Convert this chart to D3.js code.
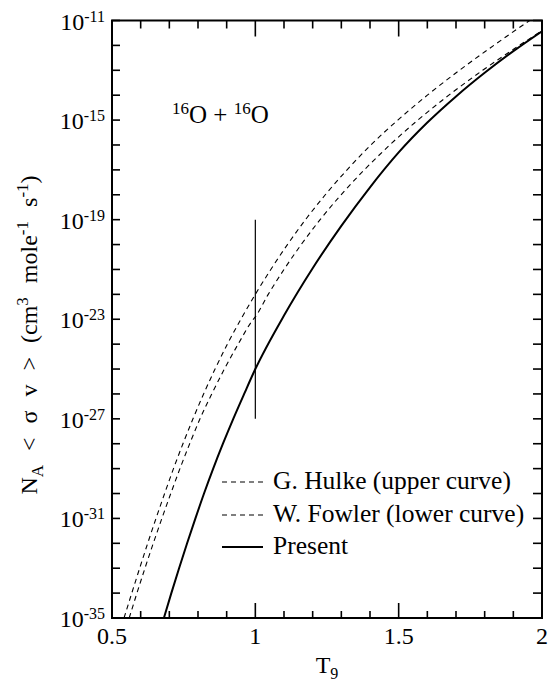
<!DOCTYPE html>
<html>
<head>
<meta charset="utf-8">
<script src="https://cdn.jsdelivr.net/npm/d3@7"></script>
<style>
  body { margin: 0; background: #fff; }
  svg text { font-family: "Liberation Serif", "Times New Roman", serif; fill: #000; }
</style>
</head>
<body>
<script>
// size of the page
var width = 548;
var height = 683;

// plot frame (window.top is read-only, so no "top" here)
var plotLeft = 112, plotRight = 542, plotTop = 20.5, plotBottom = 618;

// data: T9 and log10 of the rate
var tHulke   = [0.542, 0.569, 0.5965, 0.6245, 0.6535, 0.6835, 0.7145, 0.7475, 0.7825, 0.8195, 0.8595, 0.9025, 0.9495, 1.000, 1.054, 1.112, 1.175, 1.244, 1.320, 1.403, 1.497, 1.600, 1.712, 1.832, 1.957, 2.000];
var logHulke = [-35, -34, -33, -32, -31, -30, -29, -28, -27, -26, -25, -24, -23, -22, -21, -20, -19, -18, -17, -16, -15, -14, -13, -12, -11, -10.67];

var tFowler   = [0.560, 0.587, 0.615, 0.644, 0.674, 0.705, 0.737, 0.771, 0.807, 0.848, 0.892, 0.940, 0.993, 1.000, 1.045, 1.100, 1.160, 1.226, 1.299, 1.380, 1.469, 1.567, 1.675, 1.793, 1.921, 2.000];
var logFowler = [-35, -34, -33, -32, -31, -30, -29, -28, -27, -26, -25, -24, -23, -22.9, -22, -21, -20, -19, -18, -17, -16, -15, -14, -13, -12, -11.41];

var tPresent   = [0.681, 0.707, 0.734, 0.762, 0.791, 0.821, 0.853, 0.887, 0.923, 0.961, 1.000, 1.100, 1.200, 1.300, 1.400, 1.500, 1.600, 1.700, 1.800, 1.900, 2.000];
var logPresent = [-35, -34, -33, -32, -31, -30, -29, -28, -27, -26, -25, -22.85, -20.95, -19.25, -17.7, -16.3, -15.1, -14.05, -13.1, -12.23, -11.43];

// vertical marker at T9 = 1
var markT = 1.0;
var markLog = [-19, -27];

// tick labels
var xLabels = [0.5, 1, 1.5, 2];
var yLabelExp = [-11, -15, -19, -23, -27, -31, -35];

var legendNames = ['G. Hulke (upper curve)', 'W. Fowler (lower curve)', 'Present'];

var svg = d3.select('body').append('svg')
  .attr('width', width)
  .attr('height', height);

var x = d3.scaleLinear().domain([0.5, 2]).range([plotLeft, plotRight]);
var y = d3.scaleLog().domain([1e-35, 1e-11]).range([plotBottom, plotTop]);

//clip for the curves
svg.append('clipPath').attr('id', 'plotclip')
  .append('rect')
  .attr('x', plotLeft).attr('y', plotTop)
  .attr('width', plotRight - plotLeft).attr('height', plotBottom - plotTop);

var toPoints = function(ts, logs){
  var pts = [];
  for (var i = 0; i < ts.length; i++){
    pts.push({t: ts[i], v: Math.pow(10, logs[i])});
  }
  return pts;
};

var line = d3.line()
  .x(function(d){ return x(d.t); })
  .y(function(d){ return y(d.v); })
  .curve(d3.curveMonotoneX);

var curves = svg.append('g').attr('clip-path', 'url(#plotclip)');

curves.append('path')
  .datum(toPoints(tHulke, logHulke))
  .attr('d', line)
  .attr('fill', 'none').attr('stroke', '#000')
  .attr('stroke-width', 1.1).attr('stroke-dasharray', '5,4');

curves.append('path')
  .datum(toPoints(tFowler, logFowler))
  .attr('d', line)
  .attr('fill', 'none').attr('stroke', '#000')
  .attr('stroke-width', 1.1).attr('stroke-dasharray', '5,4');

curves.append('path')
  .datum(toPoints(tPresent, logPresent))
  .attr('d', line)
  .attr('fill', 'none').attr('stroke', '#000')
  .attr('stroke-width', 2);

// marker line
svg.append('line')
  .attr('x1', x(markT)).attr('x2', x(markT))
  .attr('y1', y(Math.pow(10, markLog[0]))).attr('y2', y(Math.pow(10, markLog[1])))
  .attr('stroke', '#000').attr('stroke-width', 1.2);

// frame
svg.append('rect')
  .attr('x', plotLeft).attr('y', plotTop)
  .attr('width', plotRight - plotLeft).attr('height', plotBottom - plotTop)
  .attr('fill', 'none').attr('stroke', '#000').attr('stroke-width', 2);

// x ticks, bottom and top, pointing inward
var axes = svg.append('g').attr('stroke', '#000').attr('stroke-width', 1.6);
var xt = x.ticks(15);
xt.forEach(function(d){
  var major = Math.abs(d * 2 - Math.round(d * 2)) < 1e-6;
  axes.append('line').attr('x1', x(d)).attr('x2', x(d))
    .attr('y1', plotBottom).attr('y2', plotBottom - (major ? 15 : 7));
  axes.append('line').attr('x1', x(d)).attr('x2', x(d))
    .attr('y1', plotTop).attr('y2', plotTop + (major ? 16 : 8));
});

// y ticks every decade, left and right
for (var e = -35; e <= -11; e++){
  var yy = y(Math.pow(10, e));
  axes.append('line').attr('x1', plotLeft).attr('x2', plotLeft + 8).attr('y1', yy).attr('y2', yy);
  axes.append('line').attr('x1', plotRight).attr('x2', plotRight - 9).attr('y1', yy).attr('y2', yy);
}

// x labels
svg.selectAll('.xlab').data(xLabels).enter()
  .append('text')
  .attr('class', 'xlab')
  .attr('x', function(d){ return x(d); })
  .attr('y', 643.5)
  .attr('text-anchor', 'middle')
  .style('font-size', '24px')
  .text(function(d){ return String(d); });

// y labels 10^n
var yl = svg.selectAll('.ylab').data(yLabelExp).enter()
  .append('text')
  .attr('class', 'ylab')
  .attr('x', 105)
  .attr('y', function(d){ return y(Math.pow(10, d)) + 9; })
  .attr('text-anchor', 'end')
  .style('font-size', '24px');
yl.append('tspan').text('10');
yl.append('tspan').attr('dy', -8).style('font-size', '16px').text(function(d){ return String(d); });

// x title
var xtitle = svg.append('text')
  .attr('x', (plotLeft + plotRight) / 2).attr('y', 673)
  .attr('text-anchor', 'middle')
  .style('font-size', '24px');
xtitle.append('tspan').text('T');
xtitle.append('tspan').attr('dy', 6).style('font-size', '16px').text('9');

// y title
var ytitle = svg.append('text')
  .attr('transform', 'translate(37,335) rotate(-90)')
  .attr('text-anchor', 'middle')
  .style('font-size', '24px')
  .style('word-spacing', '8px');
ytitle.append('tspan').text('N');
ytitle.append('tspan').attr('dy', 6).style('font-size', '17px').text('A');
ytitle.append('tspan').attr('dy', -6).text(' < \u03c3 v > (cm');
ytitle.append('tspan').attr('dy', -9).style('font-size', '17px').text('3');
ytitle.append('tspan').attr('dy', 9).text(' mole');
ytitle.append('tspan').attr('dy', -9).style('font-size', '17px').text('-1');
ytitle.append('tspan').attr('dy', 9).text(' s');
ytitle.append('tspan').attr('dy', -9).style('font-size', '17px').text('-1');
ytitle.append('tspan').attr('dy', 9).text(')');

// reaction label
var react = svg.append('text')
  .attr('x', 172).attr('y', 123)
  .style('font-size', '25px');
react.append('tspan').attr('dy', -9).style('font-size', '17px').text('16');
react.append('tspan').attr('dy', 9).text('O + ');
react.append('tspan').attr('dy', -9).style('font-size', '17px').text('16');
react.append('tspan').attr('dy', 9).text('O');

// legend
var legendY = [482, 515, 547];
var legendDash = ['5,4', '5,4', null];
var legendW = [1.1, 1.1, 2];
var lg = svg.selectAll('.leg').data(legendNames).enter()
  .append('g').attr('class', 'leg')
  .attr('transform', function(d, i){ return 'translate(0,' + legendY[i] + ')'; });
lg.append('line')
  .attr('x1', 222).attr('x2', 263).attr('y1', 0).attr('y2', 0)
  .attr('stroke', '#000')
  .attr('stroke-width', function(d, i){ return legendW[i]; })
  .attr('stroke-dasharray', function(d, i){ return legendDash[i]; });
lg.append('text')
  .attr('x', 273).attr('y', 7)
  .style('font-size', '25.5px')
  .text(function(d){ return d; });
</script>
</body>
</html>
